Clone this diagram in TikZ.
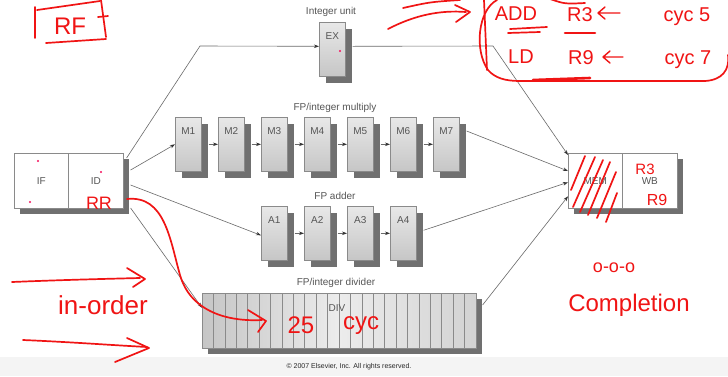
\documentclass[tikz,border=0pt]{standalone}
\usepackage{fontspec}
\setmainfont{Liberation Sans}
\usetikzlibrary{arrows.meta,shadows,calc}
\definecolor{boxline}{HTML}{8A8A8A}
\definecolor{shadowc}{HTML}{707070}
\definecolor{labc}{HTML}{555555}
\definecolor{wirec}{HTML}{6A6A6A}
\definecolor{penc}{HTML}{F01414}
\definecolor{bandc}{HTML}{F4F4F4}
\definecolor{hiC}{HTML}{E8E8E8}
\definecolor{loC}{HTML}{C6C6C6}
\tikzset{
  lab/.style={text=labc, font=\fontsize{10}{12}\selectfont, inner sep=2pt},
  fu/.style={draw=boxline, line width=0.6pt, top color=hiC, bottom color=loC,
    minimum width=26pt, minimum height=54pt, inner sep=0pt, anchor=north west,
    drop shadow={shadow xshift=7pt, shadow yshift=-7pt, fill=shadowc, opacity=1, draw=none},
    label={[lab, anchor=north, yshift=-8pt]north:#1}},
  plainbox/.style={draw=boxline, fill=white, line width=0.6pt, anchor=north west,
    inner sep=0pt, minimum height=55pt, text=labc, font=\fontsize{10}{12}\selectfont},
  wire/.style={draw=wirec, line width=0.6pt},
  arr/.style={wire, -{Stealth[length=5pt,width=3.5pt,color=black!80]}},
  pen/.style={draw=penc, line width=1.7pt, line cap=round, line join=round},
  hand/.style={text=penc, inner sep=0pt},
  copyr/.style={text=black!85, font=\fontsize{7}{8}\selectfont, inner sep=0pt}
}
\begin{document}
\begin{tikzpicture}[x=1pt,y=-1pt]
\useasboundingbox (0,0) rectangle (728,376);
\fill[white] (0,0) rectangle (728,376);
\fill[bandc] (0,357) rectangle (728,376);

% IF / ID
\fill[shadowc] (20,159) rectangle (129,214);
\node[plainbox, minimum width=54pt] (IF) at (14,153) {IF};
\node[plainbox, minimum width=55pt] (ID) at (68,153) {ID};

% MEM / WB
\fill[shadowc] (574,159) rectangle (683,214);
\node[plainbox, minimum width=54pt] (MEM) at (568,153) {MEM};
\node[plainbox, minimum width=55pt] (WB) at (622,153) {WB};

% Integer unit
\node[fu=EX] (EX) at (319,22) {};

% multiply
\foreach \i in {1,...,7} {
  \node[fu=M\i] (M\i) at ({175+43*(\i-1)},117) {};
}
% adder
\foreach \i in {1,...,4} {
  \node[fu=A\i] (A\i) at ({261+43*(\i-1)},206) {};
}
% divider
\node[draw=boxline, line width=0.6pt, left color=gray!45, right color=gray!35, middle color=gray!15,
  minimum width=274pt, minimum height=55pt, inner sep=0pt, anchor=north west,
  drop shadow={shadow xshift=6pt, shadow yshift=-6pt, fill=shadowc, opacity=1, draw=none}] (DIV) at (202,293) {};
\foreach \i in {1,...,23} {
  \draw[boxline, line width=0.6pt] ($(DIV.north west)+({\i*274/24},0)$) -- ++(0,55);
}
\node[lab] (divlab) at (337,308) {DIV};

% titles
\node[lab] (tint) at (331,12) {Integer unit};
\node[lab] (tmul) at (335,108) {FP/integer multiply};
\node[lab] (tadd) at (335,196) {FP adder};
\node[lab] (tdiv) at (336,283) {FP/integer divider};
\node[copyr] (cr) at (349,367) {© 2007 Elsevier, Inc. All rights reserved.};

% connectors
\coordinate (c1) at (200,46);
\coordinate (c2) at (493,46);
\draw[arr] ([xshift=3pt,yshift=-5pt]ID.north east) -- (c1) -- ([yshift=3pt]EX.west);
\draw[arr] ([xshift=7pt,yshift=3pt]EX.east) -- (c2) -- ([yshift=-2pt]MEM.north west);
\draw[arr] ([xshift=7pt,yshift=-17pt]ID.north east) -- (M1.west);
\draw[arr] ([xshift=7pt,yshift=-32pt]ID.north east) -- ([yshift=-2pt]A1.west);
\draw[arr] ([xshift=7pt,yshift=-55pt]ID.north east) -- ([yshift=13pt]DIV.west);
\foreach \a/\b in {M1/M2,M2/M3,M3/M4,M4/M5,M5/M6,M6/M7,A1/A2,A2/A3,A3/A4} {
  \draw[arr] ([xshift=7pt]\a.east) -- (\b.west);
}
\draw[arr] ([xshift=7pt,yshift=-14pt]M7.north east) -- ([yshift=-18pt]MEM.north west);
\draw[arr] ([xshift=7pt,yshift=3pt]A4.east) -- ([yshift=-1.5pt]MEM.west);
\draw[arr] ([xshift=6pt,yshift=-12pt]DIV.north east) -- ([yshift=-15.5pt]MEM.west);

% ---- red handwritten annotations ----
\foreach \p in {(38,161),(30,202),(101,172),(340,51)} { \fill[penc!70!magenta] \p circle (1.1); }
% RF box
\node[hand, font=\fontsize{24}{26}\selectfont] (rf) at (70,26) {RF};
\draw[pen] (35,7) -- (35,38);
\draw[pen] (37,10) -- (100,1);
\draw[pen] (101,0) -- (106,37);
\draw[pen] (46,43) -- (106,39);
\draw[pen] (98,17) -- (108,16);
% top arrow
\draw[pen] (388,29) .. controls (415,15) and (440,10) .. (466,12);
\draw[pen] (455,5) -- (470,12) -- (456,22);
\draw[pen] (403,8) .. controls (430,2) .. (460,0);
% instruction list
\node[hand, font=\fontsize{20}{22}\selectfont] (add) at (516,14) {ADD};
\node[hand, font=\fontsize{20}{22}\selectfont] (r3a) at (580,15) {R3};
\draw[pen, line width=1.4pt] (620,13) -- (598,13) (605,7) -- (598,13) -- (605,19);
\node[hand, font=\fontsize{20}{22}\selectfont] (cyc5) at (687,17) {cyc 5};
\node[hand, font=\fontsize{20}{22}\selectfont] (ld) at (521,57) {LD};
\node[hand, font=\fontsize{20}{22}\selectfont] (r9a) at (581,58) {R9};
\draw[pen, line width=1.4pt] (623,57) -- (603,57) (610,51) -- (603,57) -- (610,63);
\node[hand, font=\fontsize{20}{22}\selectfont] (cyc7) at (688,60) {cyc 7};
\draw[pen] (510,29) -- (547,27);
\draw[pen] (508,33) -- (540,32);
\draw[pen, line width=2.6pt] (565,33) -- (595,33);
\draw[pen, line width=2.6pt] (533,80) -- (590,78);
\draw[pen] (484,0) -- (487,70);
\draw[pen] (497,0) .. controls (478,10) and (474,50) .. (488,70) .. controls (495,78) and (505,81) .. (520,81)
  -- (705,81) .. controls (722,80) and (730,70) .. (728,55);
\draw[pen] (550,-1) .. controls (565,4) .. (585,3);
% RR and curve to DIV
\node[hand, font=\fontsize{18}{20}\selectfont] (rr) at (99,203) {RR};
\draw[pen] (127,199) .. controls (165,195) and (170,240) .. (180,275) .. controls (190,310) and (225,322) .. (262,320);
\draw[pen] (248,310) -- (266,321) -- (258,332);
\node[hand, font=\fontsize{24}{26}\selectfont] (n25) at (301,325) {25};
\node[hand, font=\fontsize{24}{26}\selectfont] (cycd) at (361,326) {cyc};
% MEM hatching
\draw[pen] (571,190) -- (585,156);
\draw[pen] (573,207) -- (595,157);
\draw[pen] (580,212) -- (603,160);
\draw[pen] (588,215) -- (610,162);
\draw[pen] (597,218) -- (616,172);
\draw[pen] (606,222) -- (617,193);
% WB notes
\node[hand, font=\fontsize{15}{17}\selectfont] (r3b) at (645,169) {R3};
\node[hand, font=\fontsize{16}{18}\selectfont] (r9b) at (657,200) {R9};
% in-order
\draw[pen] (12,282) .. controls (60,280) and (100,279) .. (140,278);
\draw[pen] (127,268) -- (145,279) -- (133,287);
\node[hand, font=\fontsize{26}{28}\selectfont] (inord) at (103,305) {in-order};
\draw[pen] (23,340) .. controls (70,342) and (110,345) .. (147,347);
\draw[pen] (127,338) -- (149,348) -- (115,362);
% out-of-order completion
\node[hand, font=\fontsize{18}{20}\selectfont] (ooo) at (614,268) {o-o-o};
\node[hand, font=\fontsize{24}{26}\selectfont] (compl) at (629,305) {Completion};
\end{tikzpicture}
\end{document}
